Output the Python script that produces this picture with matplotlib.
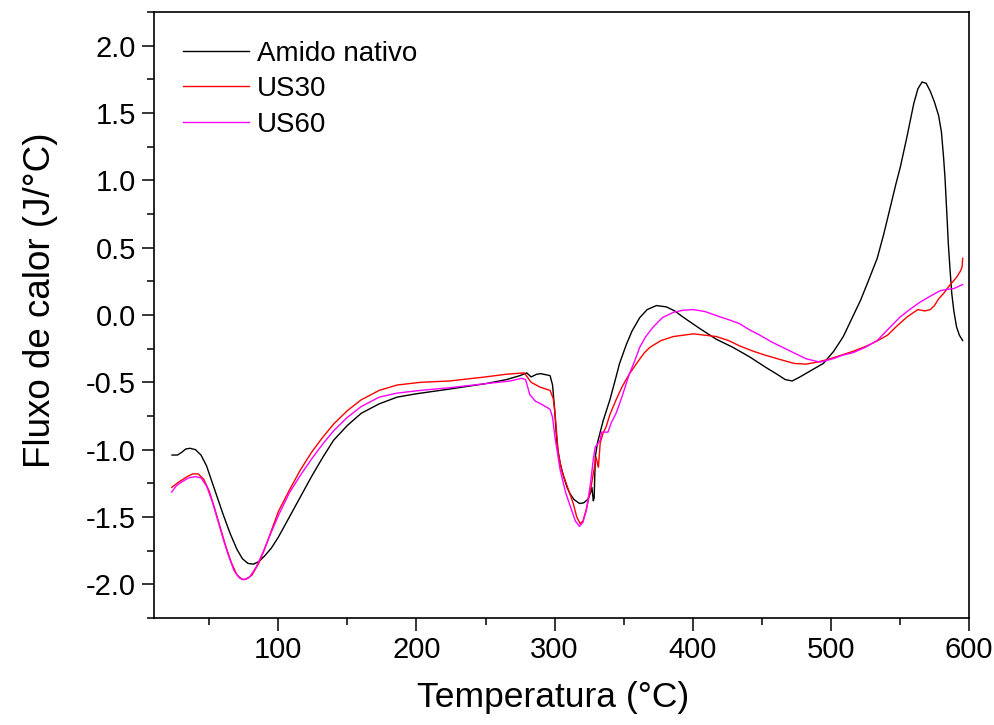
import matplotlib
matplotlib.use('Agg')
import matplotlib.pyplot as plt
from matplotlib.ticker import MultipleLocator

plt.rcParams['font.family'] = ['Liberation Sans', 'DejaVu Sans']

# Amido nativo (black)
t_nat = [23, 27, 30, 33, 36, 40, 44, 48, 52, 56, 60, 65, 70, 74, 78, 82, 86, 90, 95,
         100, 108, 116, 124, 132, 140, 150, 160, 173, 186, 200, 224, 250, 265, 275,
         279.8, 283, 287, 290, 296.7, 298.5, 300, 301.7, 304, 306.5, 309, 311.3, 314,
         318, 321, 324, 326, 327, 328, 328.6, 329.5, 331, 335, 340, 343.7, 347, 351.9,
         356, 361.6, 367, 373.7, 380.9, 387, 393, 405, 417, 429, 441, 453, 461, 467,
         472, 477.6, 486, 494.5, 502, 509, 515, 521.5, 527, 533.5, 538, 543, 547,
         550.3, 555, 560, 563, 566, 569, 572, 575, 578, 580, 581.5, 582.6, 584, 585,
         586.3, 587.5, 589, 591, 593, 595.4]
q_nat = [-1.04, -1.04, -1.02, -0.995, -0.99, -1.00, -1.04, -1.12, -1.24, -1.36, -1.48,
         -1.62, -1.74, -1.81, -1.845, -1.85, -1.83, -1.79, -1.73, -1.65, -1.50, -1.35,
         -1.20, -1.06, -0.93, -0.82, -0.73, -0.66, -0.61, -0.585, -0.55, -0.51, -0.48,
         -0.45, -0.43, -0.46, -0.44, -0.436, -0.45, -0.52, -0.70, -0.96, -1.10, -1.20,
         -1.28, -1.33, -1.37, -1.40, -1.395, -1.37, -1.32, -1.28, -1.38, -1.36, -1.05,
         -0.95, -0.79, -0.63, -0.49, -0.36, -0.22, -0.12, -0.02, 0.04, 0.07, 0.06, 0.03,
         -0.016, -0.10, -0.18, -0.24, -0.31, -0.39, -0.44, -0.48, -0.49, -0.46, -0.41,
         -0.36, -0.27, -0.16, -0.03, 0.11, 0.25, 0.42, 0.59, 0.80, 0.97, 1.10, 1.32,
         1.57, 1.68, 1.73, 1.72, 1.66, 1.58, 1.48, 1.36, 1.18, 1.02, 0.74, 0.53, 0.33,
         0.16, 0.03, -0.09, -0.15, -0.19]

# US30 (red)
t_us30 = [22.8, 28, 34, 38, 42, 46, 50, 54, 58, 62, 66, 70, 74, 77, 81, 86, 90, 95,
          100, 108, 116, 124, 132, 140, 150, 160, 173, 186, 203, 224, 250, 265, 278,
          283, 289.5, 296.7, 299, 300.3, 302.7, 305, 308.7, 313.5, 316, 318.5, 320.5,
          323, 326, 328.5, 330, 331, 331.7, 333, 335, 337.3, 340, 344.5, 349, 354, 360,
          365, 369, 377, 386, 400.5, 417, 426, 434, 444, 453, 463, 473.5, 482, 490,
          498, 507, 516, 526, 534, 541, 548, 555, 560, 563, 568, 572, 575, 578, 581.6,
          586, 591, 594, 595, 595.4]
q_us30 = [-1.28, -1.24, -1.20, -1.18, -1.18, -1.22, -1.31, -1.44, -1.58, -1.72, -1.84,
          -1.93, -1.965, -1.96, -1.93, -1.84, -1.74, -1.60, -1.46, -1.30, -1.15, -1.02,
          -0.91, -0.81, -0.71, -0.63, -0.56, -0.52, -0.50, -0.49, -0.46, -0.44, -0.43,
          -0.50, -0.536, -0.56, -0.62, -0.73, -1.03, -1.15, -1.26, -1.40, -1.50, -1.55,
          -1.53, -1.44, -1.30, -1.15, -1.055, -1.10, -1.13, -0.95, -0.88, -0.83, -0.74,
          -0.63, -0.53, -0.44, -0.35, -0.28, -0.24, -0.19, -0.16, -0.14, -0.16, -0.19,
          -0.23, -0.27, -0.30, -0.33, -0.36, -0.365, -0.35, -0.33, -0.30, -0.27, -0.23,
          -0.19, -0.15, -0.08, -0.016, 0.02, 0.04, 0.03, 0.04, 0.07, 0.12, 0.16, 0.22,
          0.28, 0.33, 0.36, 0.42]

# US60 (magenta)
t_us60 = [22.8, 26, 30, 35, 40, 44, 48, 52, 56, 60, 64, 68, 72, 75, 79, 84, 89, 95,
          100, 108, 116, 124, 132, 140, 150, 160, 173, 186, 203, 224, 250, 268, 276,
          279, 282, 286, 290, 296.7, 298.5, 300.3, 304, 308, 312, 315, 318, 320.5, 323,
          326, 328, 329.4, 331, 333, 334, 338.6, 341, 344.5, 349, 354, 358, 361.6, 366,
          371.3, 378, 386, 393, 400.5, 409, 417, 426, 434, 441, 448.6, 457, 465, 474,
          482, 492, 501.5, 508, 516, 525, 533.5, 542, 550, 557, 564.5, 572, 579, 584,
          588.7, 592, 595.4]
q_us60 = [-1.315, -1.27, -1.24, -1.21, -1.20, -1.21, -1.27, -1.38, -1.52, -1.66, -1.79,
          -1.90, -1.955, -1.965, -1.95, -1.87, -1.76, -1.61, -1.49, -1.32, -1.19, -1.07,
          -0.96, -0.86, -0.76, -0.68, -0.61, -0.58, -0.56, -0.54, -0.51, -0.49, -0.47,
          -0.48, -0.59, -0.64, -0.66, -0.70, -0.76, -0.91, -1.15, -1.32, -1.44, -1.53,
          -1.57, -1.54, -1.45, -1.25, -1.07, -0.98, -0.96, -0.93, -0.87, -0.87, -0.80,
          -0.73, -0.60, -0.44, -0.34, -0.24, -0.16, -0.09, -0.02, 0.02, 0.035, 0.04,
          0.025, -0.004, -0.035, -0.065, -0.11, -0.15, -0.20, -0.24, -0.285, -0.325,
          -0.35, -0.325, -0.30, -0.28, -0.24, -0.19, -0.10, -0.016, 0.04, 0.095, 0.14,
          0.18, 0.19, 0.195, 0.21, 0.226]

fig = plt.figure(figsize=(9.95, 7.25), dpi=100)
ax = fig.add_axes([0.1548, 0.1476, 0.8191, 0.8359])

ax.plot(t_nat, q_nat, color='black', lw=1.0, label='Amido nativo')
ax.plot(t_us30, q_us30, color='red', lw=1.0, label='US30')
ax.plot(t_us60, q_us60, color='magenta', lw=1.0, label='US60')

ax.set_xlim(10, 600)
ax.set_ylim(-2.25, 2.25)
ax.xaxis.set_major_locator(MultipleLocator(100))
ax.xaxis.set_minor_locator(MultipleLocator(50))
ax.yaxis.set_major_locator(MultipleLocator(0.5))
ax.yaxis.set_minor_locator(MultipleLocator(0.25))
ax.yaxis.set_major_formatter(plt.FormatStrFormatter('%.1f'))

ax.tick_params(which='major', direction='out', length=9, width=1.1, labelsize=21, pad=4)
ax.tick_params(which='minor', direction='out', length=5, width=1.1)
for s in ax.spines.values():
    s.set_linewidth(1.2)

ax.set_xlabel('Temperatura (°C)', fontsize=25.5, labelpad=12)
ax.set_ylabel('Fluxo de calor (J/°C)', fontsize=26.5, labelpad=20)
ax.xaxis.label.set_x(0.49)
ax.yaxis.label.set_y(0.525)

ax.legend(loc='upper left', bbox_to_anchor=(0.015, 0.98), frameon=False, fontsize=20,
          handlelength=2.37, handletextpad=0.3, labelspacing=0.34, borderaxespad=0.2)

fig.savefig('out.png', dpi=100)
